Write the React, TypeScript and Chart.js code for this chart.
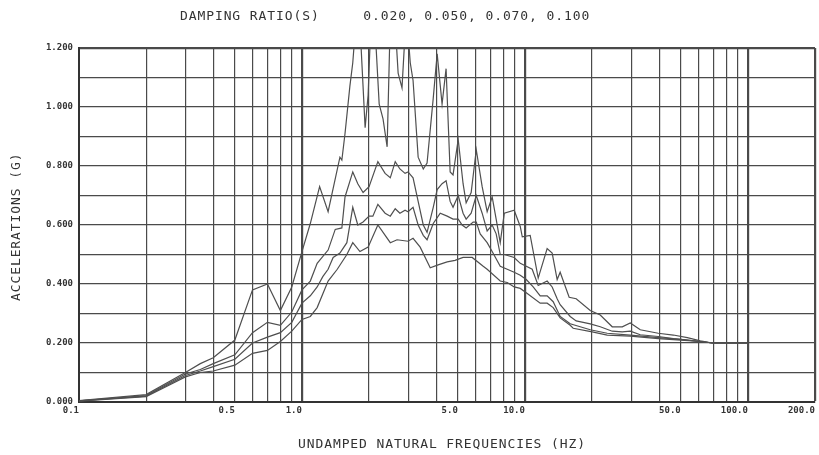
import React, { useEffect, useRef } from 'react';
import { Chart, registerables } from 'chart.js';

Chart.register(...registerables);

const TITLE = 'DAMPING RATIO(S)     0.020, 0.050, 0.070, 0.100';
const X_TITLE = 'UNDAMPED NATURAL FREQUENCIES (HZ)';
const Y_TITLE = 'ACCELERATIONS (G)';

// grid lines / tick labels
const xGridValues = [0.1, 0.2, 0.3, 0.4, 0.5, 0.6, 0.7, 0.8, 0.9, 1, 2, 3, 4, 5, 6, 7, 8, 9, 10, 20, 30, 40, 50, 60, 70, 80, 90, 100, 200];
const xLabelValues = [0.1, 0.5, 1, 5, 10, 50, 100, 200];
const xLabelTexts = ['0.1', '0.5', '1.0', '5.0', '10.0', '50.0', '100.0', '200.0'];
const xMajorValues = [1, 10, 100, 200];
const yGridValues = [0, 0.1, 0.2, 0.3, 0.4, 0.5, 0.6, 0.7, 0.8, 0.9, 1.0, 1.1, 1.2];
const yLabelValues = [0, 0.2, 0.4, 0.6, 0.8, 1.0, 1.2];
const yLabelTexts = ['0.000', '0.200', '0.400', '0.600', '0.800', '1.000', '1.200'];

// damping 0.020
const freq02 = [0.1, 0.2, 0.3, 0.35, 0.4, 0.5, 0.6, 0.7, 0.8, 0.9, 1.0, 1.09, 1.2, 1.31, 1.48, 1.51, 1.56, 1.64, 1.69, 1.75, 1.82, 1.92, 1.98, 2.04, 2.13, 2.22, 2.31, 2.41, 2.49, 2.62, 2.70, 2.81, 2.90, 2.99, 3.06, 3.15, 3.32, 3.50, 3.64, 3.88, 4.04, 4.25, 4.43, 4.62, 4.76, 5.02, 5.28, 5.45, 5.74, 6.05, 6.43, 6.77, 7.13, 7.43, 7.75, 8.08, 8.95, 9.53, 9.73, 10.56, 11.47, 12.58, 13.25, 13.95, 14.39, 15.79, 16.98, 19.63, 21.77, 24.64, 27.33, 29.68, 32.91, 39.63, 46.3, 53.5, 61.2, 69.3, 100];
const acc02 = [0.005, 0.025, 0.10, 0.13, 0.15, 0.21, 0.38, 0.40, 0.31, 0.39, 0.51, 0.605, 0.73, 0.645, 0.83, 0.82, 0.91, 1.07, 1.15, 1.3, 1.28, 0.93, 1.04, 1.3, 1.26, 1.01, 0.96, 0.865, 1.3, 1.28, 1.115, 1.065, 1.25, 1.25, 1.15, 1.09, 0.83, 0.79, 0.81, 1.03, 1.18, 1.01, 1.13, 0.78, 0.77, 0.89, 0.74, 0.675, 0.71, 0.855, 0.73, 0.645, 0.695, 0.62, 0.54, 0.64, 0.65, 0.595, 0.56, 0.565, 0.42, 0.52, 0.505, 0.415, 0.44, 0.355, 0.35, 0.31, 0.295, 0.255, 0.255, 0.268, 0.245, 0.233, 0.227, 0.218, 0.207, 0.2, 0.2];

// damping 0.050
const freq05 = [0.1, 0.2, 0.3, 0.35, 0.4, 0.5, 0.6, 0.7, 0.8, 0.9, 1.0, 1.09, 1.17, 1.31, 1.41, 1.51, 1.56, 1.69, 1.78, 1.88, 2.0, 2.19, 2.36, 2.49, 2.62, 2.75, 2.90, 2.99, 3.15, 3.32, 3.50, 3.64, 3.88, 4.04, 4.25, 4.43, 4.62, 4.76, 5.02, 5.28, 5.45, 5.74, 6.05, 6.43, 6.77, 7.13, 7.43, 7.75, 8.08, 8.95, 9.53, 10.14, 10.78, 11.47, 12.58, 13.25, 13.95, 14.39, 15.96, 16.98, 19.63, 21.77, 24.64, 27.33, 29.68, 32.91, 39.63, 46.3, 53.5, 61.2, 69.3, 100];
const acc05 = [0.004, 0.022, 0.095, 0.11, 0.13, 0.16, 0.235, 0.27, 0.26, 0.305, 0.38, 0.41, 0.47, 0.515, 0.585, 0.59, 0.695, 0.78, 0.74, 0.71, 0.73, 0.815, 0.775, 0.76, 0.815, 0.79, 0.775, 0.78, 0.76, 0.68, 0.60, 0.575, 0.66, 0.72, 0.74, 0.75, 0.68, 0.66, 0.70, 0.64, 0.62, 0.64, 0.70, 0.64, 0.58, 0.60, 0.57, 0.50, 0.50, 0.49, 0.47, 0.46, 0.45, 0.395, 0.41, 0.39, 0.35, 0.33, 0.29, 0.275, 0.265, 0.255, 0.24, 0.238, 0.24, 0.228, 0.222, 0.215, 0.21, 0.205, 0.2, 0.2];

// damping 0.070
const freq07 = [0.1, 0.2, 0.3, 0.35, 0.4, 0.5, 0.6, 0.7, 0.8, 0.9, 1.0, 1.09, 1.17, 1.24, 1.31, 1.38, 1.48, 1.59, 1.69, 1.78, 1.88, 2.0, 2.08, 2.19, 2.36, 2.49, 2.62, 2.75, 2.90, 2.99, 3.15, 3.32, 3.50, 3.64, 3.88, 4.17, 4.48, 4.76, 5.02, 5.23, 5.45, 5.86, 6.05, 6.30, 6.77, 7.13, 7.75, 8.33, 8.95, 9.53, 10.14, 10.89, 11.71, 12.58, 13.39, 14.39, 15.96, 19.63, 23.39, 29.68, 39.63, 50, 61.2, 69.3, 100];
const acc07 = [0.004, 0.02, 0.09, 0.105, 0.12, 0.145, 0.2, 0.22, 0.235, 0.27, 0.335, 0.36, 0.39, 0.425, 0.45, 0.49, 0.505, 0.54, 0.66, 0.60, 0.61, 0.63, 0.63, 0.67, 0.64, 0.63, 0.655, 0.64, 0.65, 0.645, 0.66, 0.60, 0.565, 0.55, 0.605, 0.64, 0.63, 0.62, 0.62, 0.60, 0.59, 0.61, 0.61, 0.57, 0.54, 0.51, 0.46, 0.45, 0.44, 0.43, 0.415, 0.39, 0.36, 0.36, 0.34, 0.29, 0.265, 0.245, 0.233, 0.227, 0.218, 0.212, 0.205, 0.2, 0.2];

// damping 0.100
const freq10 = [0.1, 0.2, 0.3, 0.35, 0.4, 0.5, 0.6, 0.7, 0.8, 0.9, 1.0, 1.09, 1.17, 1.31, 1.44, 1.59, 1.69, 1.82, 1.98, 2.19, 2.49, 2.67, 2.99, 3.15, 3.39, 3.76, 4.08, 4.48, 4.86, 5.28, 5.80, 6.50, 6.77, 7.75, 8.33, 8.95, 9.53, 10.14, 11.71, 12.58, 13.39, 14.39, 15.96, 16.46, 20.04, 23.39, 29.68, 39.63, 50, 61.2, 69.3, 100];
const acc10 = [0.003, 0.018, 0.085, 0.1, 0.105, 0.125, 0.165, 0.175, 0.205, 0.24, 0.28, 0.29, 0.32, 0.41, 0.45, 0.5, 0.54, 0.51, 0.525, 0.6, 0.54, 0.55, 0.545, 0.555, 0.525, 0.455, 0.465, 0.475, 0.48, 0.49, 0.49, 0.46, 0.45, 0.41, 0.405, 0.39, 0.385, 0.37, 0.335, 0.335, 0.32, 0.285, 0.26, 0.25, 0.238, 0.227, 0.223, 0.215, 0.21, 0.205, 0.2, 0.2];

const seriesNames = ['0.020', '0.050', '0.070', '0.100'];

const near = (a: number, b: number) => Math.abs(a - b) < 1e-6;

export default function App() {
  const ref = useRef<HTMLCanvasElement>(null);

  useEffect(() => {
    const canvas = ref.current;
    if (!canvas) return;
    const pts = (f: number[], a: number[]) => f.map((x, i) => ({ x, y: a[i] }));
    const lineColor = '#4f4f4f';
    const gridColor = '#4a4a4a';
    const tickFont = { family: '"DejaVu Sans Mono", monospace', size: 9, weight: 'bold' as const };

    const titles = {
      id: 'plotterTitles',
      afterDraw(chart: any) {
        const ctx = chart.ctx as CanvasRenderingContext2D;
        ctx.save();
        ctx.fillStyle = '#333333';
        ctx.font = '13px "DejaVu Sans Mono", monospace';
        (ctx as any).letterSpacing = '0.9px';
        ctx.textAlign = 'left';
        ctx.textBaseline = 'alphabetic';
        ctx.fillText(TITLE, 180, 20);
        ctx.fillText(X_TITLE, 298, 448);
        ctx.translate(20, 301);
        ctx.rotate(-Math.PI / 2);
        ctx.fillText(Y_TITLE, 0, 0);
        ctx.restore();
      },
    };

    const mkSet = (i: number, f: number[], a: number[]) => ({
      label: seriesNames[i],
      data: pts(f, a),
      borderColor: lineColor,
      borderWidth: 1.2,
      pointRadius: 0,
      fill: false,
      tension: 0,
    });

    const chart = new Chart(canvas, {
      type: 'line',
      data: {
        datasets: [
          mkSet(0, freq02, acc02),
          mkSet(1, freq05, acc05),
          mkSet(2, freq07, acc07),
          mkSet(3, freq10, acc10),
        ],
      },
      options: {
        responsive: false,
        animation: false,
        devicePixelRatio: 1,
        layout: { padding: { top: 48, right: 4, bottom: 0, left: 0 } },
        plugins: {
          legend: { display: false },
          tooltip: { enabled: false },
          title: { display: false },
        },
        scales: {
          x: {
            type: 'logarithmic',
            min: 0.1,
            max: 200,
            afterBuildTicks: (s: any) => {
              s.ticks = xGridValues.map((v) => ({ value: v }));
            },
            afterFit: (s: any) => {
              s.height = 53;
            },
            ticks: {
              autoSkip: false,
              maxRotation: 0,
              minRotation: 0,
              align: 'end',
              padding: 3,
              color: '#333333',
              font: tickFont,
              callback: (v: any) => {
                const i = xLabelValues.findIndex((l) => near(l, Number(v)));
                return i >= 0 ? xLabelTexts[i] : '';
              },
            },
            grid: {
              color: gridColor,
              drawTicks: false,
              lineWidth: (c: any) => (c.tick && xMajorValues.some((m) => near(m, c.tick.value)) ? 2.2 : 1.2),
            },
            border: { display: true, color: '#333333', width: 2 },
          },
          y: {
            type: 'linear',
            min: 0,
            max: 1.2,
            afterBuildTicks: (s: any) => {
              s.ticks = yGridValues.map((v) => ({ value: v }));
            },
            afterFit: (s: any) => {
              s.width = 79;
            },
            ticks: {
              padding: 6,
              color: '#333333',
              font: tickFont,
              callback: (v: any) => {
                const i = yLabelValues.findIndex((l) => near(l, Number(v)));
                return i >= 0 ? yLabelTexts[i] : '';
              },
            },
            grid: {
              color: gridColor,
              drawTicks: false,
              lineWidth: (c: any) => (c.tick && near(c.tick.value, 1.2) ? 2.2 : 1.2),
            },
            border: { display: true, color: '#333333', width: 2 },
          },
        },
      },
      plugins: [titles],
    } as any);

    return () => chart.destroy();
  }, []);

  return (
    <div style={{ position: 'fixed', left: 0, top: 0, width: 819, height: 455, background: '#ffffff' }}>
      <canvas ref={ref} width={819} height={455} style={{ display: 'block', width: 819, height: 455 }} />
    </div>
  );
}
